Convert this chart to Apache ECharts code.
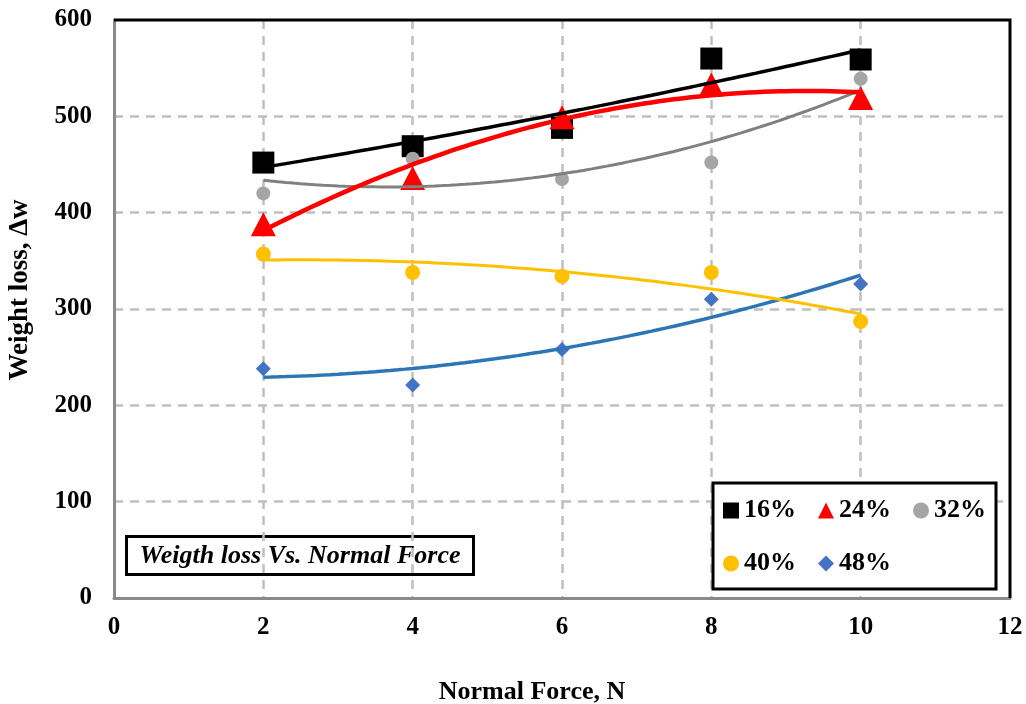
<!DOCTYPE html>
<html>
<head>
<meta charset="utf-8">
<title>Weight loss vs Normal Force</title>
<script src="https://cdn.jsdelivr.net/npm/echarts@6/dist/echarts.min.js"></script>
<style>
  html, body { margin: 0; padding: 0; background: #fff; }
  #chart { width: 1026px; height: 704px; }
</style>
</head>
<body>
<div id="chart"></div>
<script>
// Normal force values (N)
const forces = [2, 4, 6, 8, 10];

// Weight loss measured at each normal force, per filler content
const loss16 = [452, 469, 488, 560, 559];
const loss24 = [388, 436, 499, 533, 519];
const loss32 = [420, 456, 435, 452, 539];
const loss40 = [357, 338, 334, 338, 287];
const loss48 = [238, 221, 258, 310, 326];

const seriesNames = ['16%', '24%', '32%', '40%', '48%'];
const xTicks = [0, 2, 4, 6, 8, 10, 12];
const yTicks = [0, 100, 200, 300, 400, 500, 600];

const SERIF = "'Liberation Serif', 'Times New Roman', serif";

// Second-order least-squares polynomial trendline through (xs, ys)
function quadFit(xs, ys) {
  const n = xs.length;
  let s1 = 0, s2 = 0, s3 = 0, s4 = 0, sy = 0, sxy = 0, sx2y = 0;
  for (let i = 0; i < n; i++) {
    const x = xs[i], y = ys[i];
    s1 += x; s2 += x * x; s3 += x * x * x; s4 += x * x * x * x;
    sy += y; sxy += x * y; sx2y += x * x * y;
  }
  // Solve the 3x3 normal equations by Cramer's rule
  const M = [[n, s1, s2], [s1, s2, s3], [s2, s3, s4]];
  const R = [sy, sxy, sx2y];
  const det = m => m[0][0] * (m[1][1] * m[2][2] - m[1][2] * m[2][1])
                 - m[0][1] * (m[1][0] * m[2][2] - m[1][2] * m[2][0])
                 + m[0][2] * (m[1][0] * m[2][1] - m[1][1] * m[2][0]);
  const D = det(M);
  const coef = [0, 1, 2].map(k => {
    const m = M.map((row, r) => row.map((v, c) => (c === k ? R[r] : v)));
    return det(m) / D;
  });
  const pts = [];
  const x0 = Math.min(...xs), x1 = Math.max(...xs);
  for (let i = 0; i <= 80; i++) {
    const x = x0 + (x1 - x0) * i / 80;
    pts.push([x, coef[0] + coef[1] * x + coef[2] * x * x]);
  }
  return pts;
}

const pairs = ys => forces.map((x, i) => [x, ys[i]]);

const styles = [
  { data: loss16, symbol: 'rect',     size: 22,       mark: '#000000', line: '#000000', lw: 3.5 },
  { data: loss24, symbol: 'triangle', size: [25, 24], mark: '#FF0000', line: '#FF0000', lw: 4.5 },
  { data: loss32, symbol: 'circle',   size: 14,       mark: '#A5A5A5', line: '#808080', lw: 3 },
  { data: loss40, symbol: 'circle',   size: 15,       mark: '#FFC000', line: '#FFC000', lw: 3 },
  { data: loss48, symbol: 'diamond',  size: 15,       mark: '#4472C4', line: '#2E75B6', lw: 3.5 }
];

const series = [];
styles.forEach((s, i) => {
  series.push({
    name: seriesNames[i],
    type: 'scatter',
    data: pairs(s.data),
    symbol: s.symbol,
    symbolSize: s.size,
    itemStyle: { color: s.mark, opacity: 1 },
    z: 2,
    silent: true
  });
});
// Trendlines drawn above the markers, black last
[4, 3, 2, 1, 0].forEach(i => {
  const s = styles[i];
  series.push({
    name: seriesNames[i] + ' trend',
    type: 'line',
    data: quadFit(forces, s.data),
    showSymbol: false,
    symbol: 'none',
    lineStyle: { color: s.line, width: s.lw },
    z: 3,
    silent: true
  });
});

const chart = echarts.init(document.getElementById('chart'), null, { renderer: 'canvas' });

const gridLeft = 114, gridRight = 16, gridTop = 20, gridBottom = 106;
const W = 1026, H = 704;
const plotRight = W - gridRight, plotBottom = H - gridBottom;

const gridLine = { color: '#BFBFBF', width: 2.5, type: [9, 7] };

chart.setOption({
  animation: false,
  backgroundColor: '#ffffff',
  grid: {
    left: gridLeft, right: gridRight, top: gridTop, bottom: gridBottom,
    show: false
  },
  xAxis: {
    type: 'value',
    min: xTicks[0], max: xTicks[xTicks.length - 1], interval: 2,
    axisLine: { show: true, onZero: false, lineStyle: { color: '#8a8a8a', width: 3 } },
    axisTick: { show: false },
    axisLabel: { margin: 17, color: '#000', fontFamily: SERIF, fontWeight: 'bold', fontSize: 25 },
    splitLine: { show: true, showMinLine: false, showMaxLine: false, lineStyle: gridLine }
  },
  yAxis: {
    type: 'value',
    min: yTicks[0], max: yTicks[yTicks.length - 1], interval: 100,
    axisLine: { show: true, onZero: false, lineStyle: { color: '#8a8a8a', width: 3 } },
    axisTick: { show: false },
    axisLabel: { margin: 22, color: '#000', fontFamily: SERIF, fontWeight: 'bold', fontSize: 25 },
    splitLine: { show: true, showMinLine: false, showMaxLine: false, lineStyle: gridLine }
  },
  legend: {
    data: seriesNames,
    left: 713, top: 483,
    width: 270,
    orient: 'horizontal',
    padding: [12, 10, 10, 10],
    itemGap: 22,
    itemWidth: 16, itemHeight: 16,
    backgroundColor: '#ffffff',
    borderColor: '#000000', borderWidth: 3,
    selectedMode: false,
    textStyle: { color: '#000', fontFamily: SERIF, fontWeight: 'bold', fontSize: 26, lineHeight: 31 }
  },
  graphic: [
    // Top and right frame of the plot area
    {
      type: 'polyline',
      z: 5,
      shape: { points: [[gridLeft, gridTop], [plotRight, gridTop], [plotRight, plotBottom]] },
      style: { stroke: '#000000', lineWidth: 3, fill: null }
    },
    {
      type: 'text',
      x: 532, y: 692,
      style: {
        text: 'Normal Force, N',
        fill: '#000',
        font: "bold 26px 'Liberation Serif', 'Times New Roman', serif",
        textAlign: 'center', textVerticalAlign: 'middle'
      }
    },
    {
      type: 'text',
      x: 20, y: 290,
      rotation: Math.PI / 2,
      style: {
        text: 'Weight loss, Δw',
        fill: '#000',
        font: "bold 27px 'Liberation Serif', 'Times New Roman', serif",
        textAlign: 'center', textVerticalAlign: 'middle'
      }
    },
    {
      type: 'group',
      z: 10,
      children: [
        {
          type: 'rect',
          shape: { x: 126.5, y: 536.5, width: 347, height: 38 },
          style: { fill: '#ffffff', stroke: '#000000', lineWidth: 3 }
        },
        {
          type: 'text',
          x: 300, y: 556,
          style: {
            text: 'Weigth loss Vs. Normal Force',
            fill: '#000',
            font: "italic bold 26px 'Liberation Serif', 'Times New Roman', serif",
            textAlign: 'center', textVerticalAlign: 'middle'
          }
        }
      ]
    }
  ],
  series: series
});
</script>
</body>
</html>
